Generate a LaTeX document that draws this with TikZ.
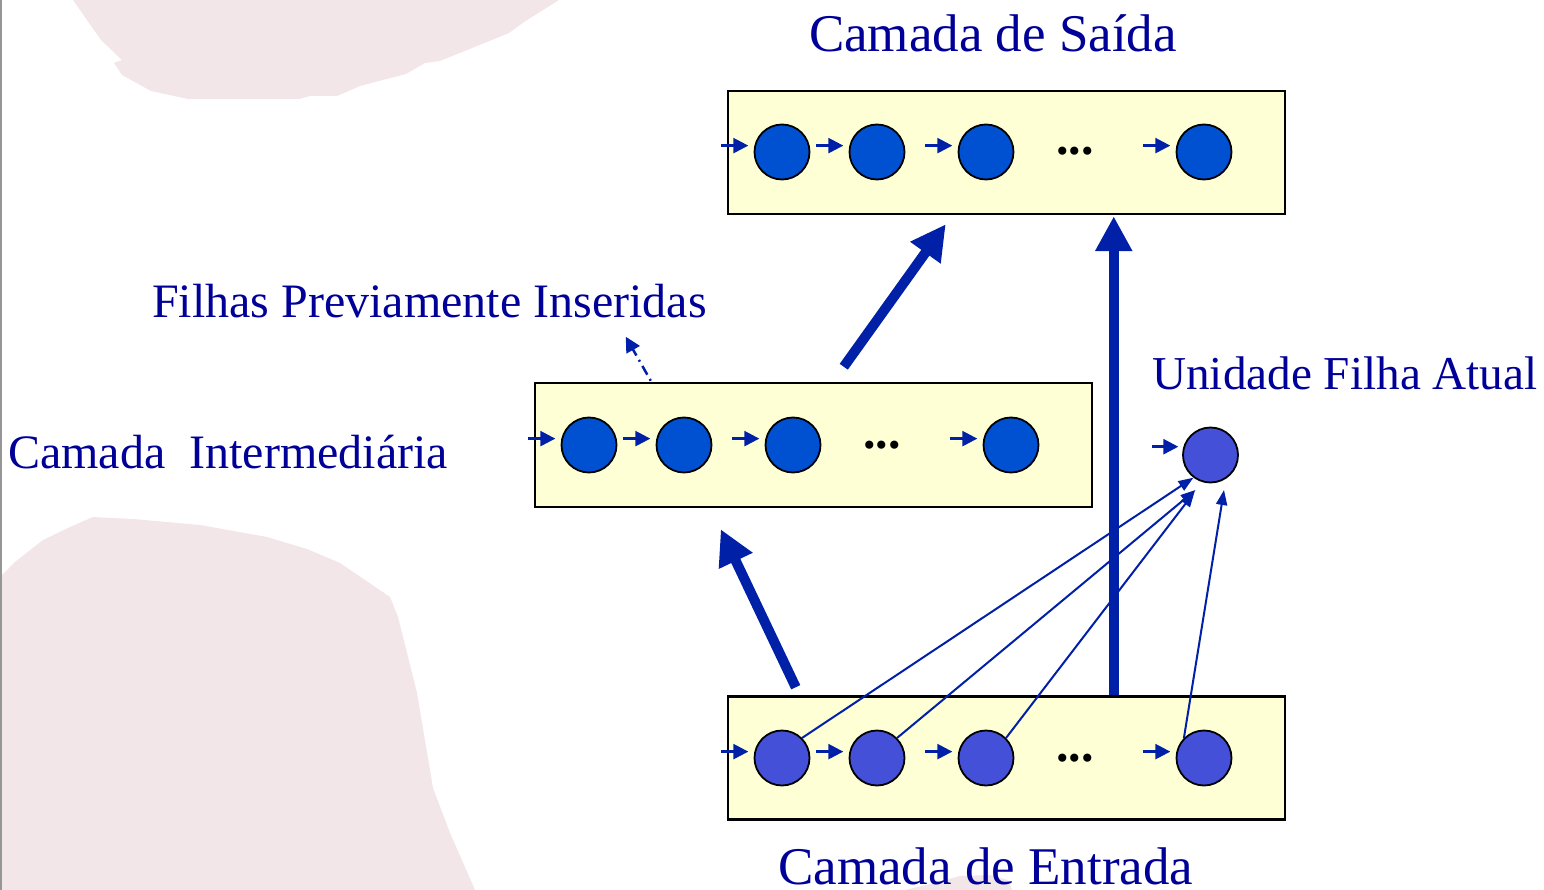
\documentclass[tikz,border=0pt]{standalone}
\usepackage{fontspec}
\setmainfont{Liberation Serif}
\usetikzlibrary{arrows.meta}
\definecolor{pinkbg}{RGB}{242,230,232}
\definecolor{boxfill}{RGB}{255,255,214}
\definecolor{unitA}{RGB}{0,80,210}
\definecolor{unitB}{RGB}{67,80,215}
\definecolor{arrowblue}{RGB}{0,32,168}
\definecolor{txtblue}{RGB}{0,0,153}
\definecolor{edgegray}{RGB}{150,150,150}
\begin{document}
\begin{tikzpicture}[x=1pt,y=-1pt,
  layerbox/.style={rectangle,draw=black,line width=2.5pt,fill=boxfill,
    minimum width=557pt,minimum height=123pt,inner sep=0pt},
  unit/.style={circle,draw=black,line width=1.8pt,minimum size=55pt,inner sep=0pt},
  unitA/.style={unit,fill=unitA},
  unitB/.style={unit,fill=unitB},
  bigtitle/.style={text=txtblue,font=\fontsize{53}{60}\selectfont,inner sep=0pt},
  label/.style={text=txtblue,font=\fontsize{48}{56}\selectfont,inner sep=0pt},
  dots/.style={text=black,font=\bfseries\fontsize{50}{56}\selectfont,inner sep=0pt,anchor=base},
  inarrow/.style={draw=arrowblue,line width=2.5pt,-{Triangle[length=15pt,width=15pt]}},
  thinarrow/.style={draw=arrowblue,line width=2pt,-{Triangle[length=15pt,width=11pt]}},
  bigarrow/.style={draw=arrowblue,line width=10pt,-{Triangle[length=35pt,width=35pt]}},
  dasharrow/.style={draw=arrowblue,line width=2.5pt,dash pattern=on 2pt off 5pt on 10pt off 5pt,
    -{Triangle[length=15pt,width=15pt]}}
]
\useasboundingbox (0,0) rectangle (1544,890);
\fill[white] (0,0) rectangle (1544,890);
% background shapes
\fill[pinkbg] (73,0) -- (101,40) -- (122,60) -- (114,63) -- (122,75) -- (151,91) -- (188,99)
  -- (299,99) -- (310,96) -- (337,96) -- (360,86) -- (406,74) -- (425,63) -- (440,61)
  -- (509,33) -- (524,22) -- (559,0) -- cycle;
\fill[pinkbg] (0,577) -- (15,562) -- (43,540) -- (70,527) -- (93,517) -- (133,519) -- (200,525)
  -- (267,537) -- (307,549) -- (340,563) -- (390,597) -- (398,617) -- (417,693) -- (433,788)
  -- (450,833) -- (475,890) -- (0,890) -- cycle;
\fill[pinkbg] (905,890) -- (930,884) -- (960,876) -- (990,875) -- (1008,880) -- (1012,890) -- cycle;
\draw[edgegray,line width=2pt] (1,0) -- (1,890);

% layer boxes
\node[layerbox] (top) at (1006.5,152.5) {};
\node[layerbox,minimum height=124pt] (mid) at (813.5,445) {};
\node[layerbox] (bot) at (1006.5,758) {};

% units
\foreach \n/\x in {1/782,2/877,3/986,4/1204}{
  \node[unitA] (t\n) at (\x,152) {};
  \node[unitB] (b\n) at (\x,758) {};
}
\foreach \n/\x in {1/589,2/684,3/793,4/1011}{
  \node[unitA] (m\n) at (\x,445) {};
}
\node[unitB] (u) at (1210.5,455) {};

% ellipses
\node[dots] (dt) at (1075,155) {...};
\node[dots] (dm) at (882,448) {...};
\node[dots] (db) at (1075,761) {...};

% input arrows
\foreach \l in {t,m,b}{
  \foreach \n in {1,2,3,4}{
    \draw[inarrow] ([xshift=-33pt]\l\n.167) -- ([xshift=-6pt]\l\n.167);
  }
}
\draw[inarrow] ([xshift=-31pt]u.163) -- ([xshift=-5pt]u.163);

% thick arrows
\draw[bigarrow] ([shift={(69,-8)}]bot.north west) -- ([shift={(187,21)}]mid.south west);
\draw[bigarrow] ([shift={(310,-15)}]mid.north west) -- ([shift={(219,9)}]top.south west);
\draw[bigarrow] ([shift={(387,0)}]bot.north west) -- ([shift={(387,1)}]top.south west);

% connections to current child unit
\draw[thinarrow] (b1.45) -- (u.233);
\draw[thinarrow] (b2.45) -- ([shift={(-15,35)}]u.center);
\draw[thinarrow] (b3.45) -- ([shift={(-16,37)}]u.center);
\draw[thinarrow] (b4.135) -- ([shift={(13.5,35)}]u.center);

% dotted arrow
\draw[dasharrow] ([shift={(117,-1)}]mid.north west) -- ([shift={(92,-45)}]mid.north west);

% labels
\node[bigtitle,anchor=base] (ttop) at (993,52) {Camada de Saída};
\node[bigtitle,anchor=base west] (tbot) at (778,884) {Camada de Entrada};
\node[label,anchor=base west] (tmid) at (8,468) {Camada\ \ Intermediária};
\node[label,anchor=base west] (tprev) at (152,318) {Filhas Previamente Inseridas};
\node[label,anchor=base west,font=\fontsize{47.2}{56}\selectfont] (tcur) at (1152,389) {Unidade Filha Atual};
\end{tikzpicture}
\end{document}
